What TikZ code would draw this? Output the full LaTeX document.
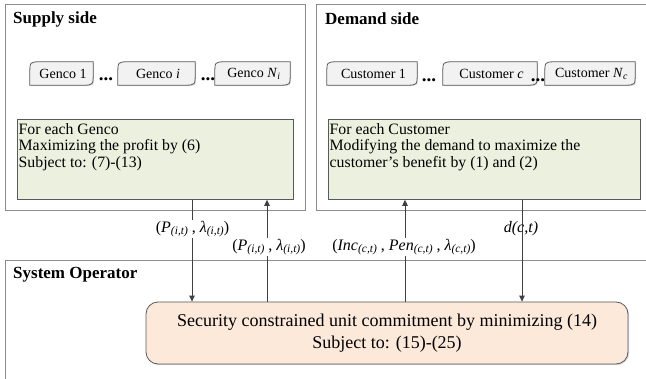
\documentclass[tikz,border=0pt]{standalone}
\usepackage{fontspec}
\setmainfont{Liberation Serif}
\usetikzlibrary{arrows.meta,backgrounds,shadows,calc}

\definecolor{framegray}{HTML}{8C8C8C}
\definecolor{edgegray}{HTML}{404040}
\definecolor{cardfill}{HTML}{F2F2F2}
\definecolor{cardedge}{HTML}{595959}
\definecolor{taskfill}{HTML}{EBF1DE}
\definecolor{sysfill}{HTML}{FCE9DA}

% index set in smaller italics, slightly lowered
\newcommand\idx[1]{\raisebox{-1.5pt}{\fontsize{11.5}{12}\selectfont\itshape #1}}

\begin{document}
\begin{tikzpicture}[x=1pt,y=-1pt,
  outerframe/.style={draw=framegray, line width=1pt},
  areatitle/.style={anchor=west, inner sep=0pt, font=\fontsize{17}{20}\selectfont\bfseries},
  cardnode/.style={inner sep=0pt, minimum height=23pt, font=\fontsize{14}{16}\selectfont},
  cardoutline/.style={draw=cardedge, fill=cardfill, line width=0.8pt,
    drop shadow={shadow xshift=1pt, shadow yshift=-1pt, opacity=0.25}},
  gap/.style={inner sep=0pt, font=\fontsize{19}{20}\selectfont\bfseries},
  taskbox/.style={draw=cardedge, fill=taskfill, line width=0.8pt, anchor=north west,
    inner sep=0pt, drop shadow={shadow xshift=1pt, shadow yshift=-1pt, opacity=0.25}},
  tasktext/.style={anchor=north west, inner sep=0pt, align=left,
    font=\fontsize{15.8}{16.5}\selectfont},
  sysbox/.style={draw=cardedge, fill=sysfill, line width=0.8pt, rounded corners=12pt,
    minimum width=482pt, minimum height=62pt, inner sep=0pt, align=center,
    font=\fontsize{18}{22}\selectfont,
    drop shadow={shadow xshift=1.2pt, shadow yshift=-1.2pt, opacity=0.3}},
  link/.style={draw=edgegray, line width=0.9pt},
  arrowtip/.style={-{Triangle[length=6pt,width=5.5pt]}},
  flowlabel/.style={inner sep=1pt, fill=white, font=\fontsize{16}{18}\selectfont},
]
\useasboundingbox (0,0) rectangle (646,379);

% ---------- area frames ----------
\draw[outerframe] (5,5) rectangle (305,211);
\draw[outerframe] (646,5) -- (316,5) -- (316,211) -- (646,211);
\draw[outerframe] (646,261) -- (5,261) -- (5,379);

\node[areatitle] (tsup) at (13,19) {Supply side};
\node[areatitle] (tdem) at (325,19) {Demand side};
\node[areatitle] (tsys) at (13,275) {System Operator};

% ---------- market participants ----------
\node[cardnode, minimum width=63pt] (g1) at (61.5,73.5) {\hspace*{3pt}Genco 1};
\node[cardnode, minimum width=77pt] (gi) at (156.5,73.5) {\hspace*{3pt}Genco \textit{i}};
\node[cardnode, minimum width=75pt] (gn) at (252.5,73.5) {\hspace*{3pt}Genco \textit{N}\textsubscript{\textit{i}}};
\node[cardnode, minimum width=90pt] (c1) at (372,73.5) {\hspace*{3pt}Customer 1};
\node[cardnode, minimum width=94pt] (cc) at (490,73.5) {\hspace*{3pt}Customer \textit{c}};
\node[cardnode, minimum width=90pt] (cn) at (590,73.5) {\hspace*{3pt}Customer \textit{N}\textsubscript{\textit{c}}};

\node[gap] (d1) at (106,79) {...};
\node[gap] (d2) at (208,79) {...};
\node[gap] (d3) at (429,80) {...};
\node[gap] (d4) at (538,80) {...};

% card outlines: rounded top-left and bottom-right corners
\begin{scope}[on background layer]
  \foreach \n in {g1,gi,gn,c1,cc,cn}
    \draw[cardoutline] (\n.south west) -- ($(\n.north west)+(0,12)$)
      .. controls (\n.north west) .. ($(\n.north west)+(11,0)$)
      -- (\n.north east) -- ($(\n.south east)+(0,-12)$)
      .. controls (\n.south east) .. ($(\n.south east)+(-11,0)$) -- cycle;
\end{scope}

% ---------- decision problems ----------
\node[taskbox, minimum width=276pt, minimum height=80pt] (gtask) at (17,119) {};
\node[tasktext] (gtext) at (18.5,123) {For each Genco\\Maximizing the profit by (6)\\Subject to: (7)-(13)};

\node[taskbox, minimum width=312pt, minimum height=80pt] (dtask) at (328,119) {};
\node[tasktext] (dtext) at (329.5,123) {For each Customer\\Modifying the demand to maximize the\\customer’s benefit by (1) and (2)};

\node[sysbox] (sco) at (387,333) {Security constrained unit commitment by minimizing (14)\\Subject to: (15)-(25)};

% ---------- information flows ----------
\coordinate (colA) at (192,0);
\coordinate (colB) at (267,0);
\coordinate (colC) at (405,0);
\coordinate (colD) at (522,0);

\draw[link,arrowtip] (gtask.south -| colA) -- (sco.north -| colA);
\draw[link,arrowtip] (sco.north -| colB) -- (gtask.south -| colB);
\draw[link,arrowtip] (sco.north -| colC) -- (dtask.south -| colC);
\draw[link,arrowtip] (dtask.south -| colD) -- (sco.north -| colD);

\node[flowlabel] (lbA) at (192.5,229) {(\textit{P}\idx{(i,t)} , \textit{λ}\idx{(i,t)})};
\node[flowlabel] (lbB) at (269,247) {(\textit{P}\idx{(i,t)} , \textit{λ}\idx{(i,t)})};
\node[flowlabel] (lbC) at (404,247) {(\textit{Inc}\idx{(c,t)} , \textit{Pen}\idx{(c,t)} , \textit{λ}\idx{(c,t)})};
\node[flowlabel, fill=none] (lbD) at (521,229) {\textit{d(c,t)}};
\end{tikzpicture}
\end{document}
